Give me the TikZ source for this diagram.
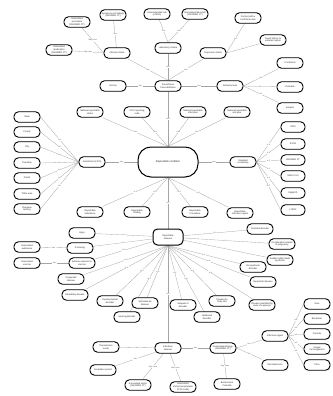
\documentclass[tikz,border=0pt]{standalone}
\usepackage{fontspec}
\setmainfont{Liberation Sans}
\usetikzlibrary{backgrounds,positioning}
\definecolor{linkgray}{RGB}{165,165,165}
\definecolor{relgray}{RGB}{95,95,95}
\definecolor{textgray}{RGB}{40,40,40}

\begin{document}
\begin{tikzpicture}[
    x=1mm,
    y=-1mm,
    concept/.style={
      draw,
      line width=0.9mm,
      rounded corners=4.5mm,
      fill=white,
      align=center,
      inner sep=1.1mm,
      minimum width=26mm,
      minimum height=10.5mm,
      text=textgray,
      font=\fontsize{6.5}{7.5}\selectfont
    },
    hub/.style={concept, line width=1mm, minimum width=60mm, minimum height=30mm,
      rounded corners=13mm, font=\fontsize{7.5}{9}\selectfont},
    link/.style={draw=linkgray, line width=0.3mm},
    rel/.style={font=\fontsize{5.5}{6.5}\selectfont, text=relgray, fill=white,
      inner sep=0.4mm}
  ]
  \useasboundingbox (0,0) rectangle (332,396);

  % surveillance case definition
  \node[concept] (apro) at (77,22) {Associated\\procedure\\(SNOMED CT)};
  \node[concept] (amed) at (59,50) {Associated\\medication\\(SNOMED CT)};
  \node[concept] (symp) at (113,15) {Symptoms \& Findings\\(SNOMED CT)};
  \node[concept] (labt) at (157,14) {Associated lab test\\(LOINC)};
  \node[concept] (labr) at (195,14) {Associated lab result\\(SNOMED CT)};
  \node[concept] (clin) at (117,53) {Clinical criteria};
  \node[concept] (labc) at (168,48) {Laboratory criteria};
  \node[concept] (expc) at (213,53) {Exposure criteria};
  \node[concept] (cont) at (248,18) {Contact with a\\confirmed case};
  \node[concept] (trav) at (273,40) {Travel history to\\endemic region};
  \node[concept] (vers) at (113,86) {Version};
  \node[concept] (surv) at (168,86) {Surveillance\\Case definition};
  \node[concept] (cert) at (230,86) {Certainty level};
  \node[concept] (conf) at (290,63) {Confirmed};
  \node[concept] (prob) at (290,87) {Probable};
  \node[concept] (susp) at (290,108) {Suspect};

  % reportable condition
  \node[concept] (nrs) at (90,112) {National reportable\\status};
  \node[concept] (cdc) at (137,112) {CDC reporting\\code};
  \node[concept] (nrsy) at (193,112) {National reportable\\start year};
  \node[concept] (nrey) at (237,112) {National reportable\\end year};
  \node[hub] (rc) at (168,162) {Reportable condition};
  \node[concept] (juri) at (92,162) {Jurisdiction (FIPS)};
  \node[concept] (stdv) at (243,162) {Standard\\vocabulary};

  \node[concept] (state) at (27,117) {State};
  \node[concept] (county) at (27,132) {County};
  \node[concept] (city) at (27,147) {City};
  \node[concept] (town) at (27,163) {Township};
  \node[concept] (parish) at (27,178) {Parish};
  \node[concept] (tribal) at (27,194) {Tribal area};
  \node[concept] (overs) at (27,209) {Overseas\\territory};

  \node[concept, minimum width=24mm] (icd9) at (293,127) {ICD9};
  \node[concept, minimum width=24mm] (icd10) at (293,144) {ICD10};
  \node[concept, minimum width=24mm] (snomed) at (293,160) {SNOMED CT};
  \node[concept, minimum width=24mm] (umls) at (293,176) {UMLS CUI};
  \node[concept, minimum width=24mm] (digid) at (293,193) {Digital ID};
  \node[concept, minimum width=24mm] (loinc) at (293,210) {LOINC};

  \node[concept] (rsub) at (90,212) {Reportable\\Substance};
  \node[concept] (rfin) at (137,212) {Reportable\\Finding};
  \node[concept] (rpro) at (195,212) {Reportable\\Procedure};
  \node[concept] (rinf) at (240,213) {Reportable\\infectious agent};

  % reportable disease
  \node[concept, minimum width=30mm, minimum height=16mm, line width=1mm] (rd)
    at (168,237) {Reportable\\Disease};
  \node[concept] (inj) at (82,233) {Injury};
  \node[concept] (pois) at (80,248) {Poisoning};
  \node[concept] (adv) at (82,263) {Adverse reaction to\\vaccine};
  \node[concept] (asub) at (27,247) {Associated\\substance};
  \node[concept] (avac) at (27,263) {Associated\\vaccine};
  \node[concept] (cong) at (71,279) {Congenital\\disease};
  \node[concept] (here) at (75,295) {Hereditary disease};
  \node[concept] (dev) at (110,301) {Developmental\\disorder};
  \node[concept] (hear) at (127,317) {Hearing disorder};
  \node[concept] (self) at (145,303) {Self-induced\\disease};
  \node[concept] (seq) at (183,305) {Sequela of\\disorder};
  \node[concept] (nut) at (207,317) {Nutritional\\disorder};
  \node[concept] (body) at (222,301) {Disease by\\body site};
  \node[concept] (route) at (262,305) {Disease classified by\\route of exposure};
  \node[concept] (peri) at (260,229) {Perinatal disorder};
  \node[concept] (preg) at (282,244) {Complication related\\to pregnancy};
  \node[concept] (sids) at (280,260) {Sudden infant death\\syndrome};
  \node[concept] (occ) at (253,267) {Occupational\\disorder};
  \node[concept] (neo) at (263,282) {Neoplastic disease};

  % infectious disease
  \node[concept] (inf) at (168,348) {Infectious\\disease};
  \node[concept] (trans) at (106,347) {Transmission\\mode};
  \node[concept] (incu) at (103,370) {Incubation period};
  \node[concept] (avec) at (138,385) {Associated vector\\(SNOMED CT)};
  \node[concept] (aimm) at (183,387) {Associated\\immunoprophylaxis\\(CVX code)};
  \node[concept] (aeti) at (223,348) {Associated etiology\\(SNOMED CT)};
  \node[concept] (bio) at (227,384) {Bioterrorism\\Potential};
  \node[concept] (iag) at (275,336) {Infectious agent};
  \node[concept] (mtox) at (275,365) {Microbial toxin};
  \node[concept] (virus) at (317,304) {Virus};
  \node[concept] (bact) at (317,319) {Bacterium};
  \node[concept] (para) at (317,334) {Parasite};
  \node[concept] (fung) at (317,349) {Fungal\\microorganism};
  \node[concept] (prion) at (317,365) {Prion};

  \begin{scope}[on background layer]
  \draw[link] (clin) -- node[rel] {Has} (symp);
  \draw[link] (clin.west) -- node[rel] {May have} (apro);
  \draw[link] (clin.west) -- node[rel] {May have} (amed);
  \draw[link] (labc.north) -- node[rel] {Has} (labt);
  \draw[link] (labc.north) -- node[rel] {Has} (labr);
  \draw[link] (expc.east) -- node[rel] {IsA} (cont);
  \draw[link] (expc.east) -- node[rel] {IsA} (trav);
  \draw[link] (surv.north) -- node[rel] {Has} (clin);
  \draw[link] (surv.north) -- node[rel] {Has} (labc);
  \draw[link] (surv.north) -- node[rel] {Has} (expc);
  \draw[link] (surv) -- node[rel] {Has} (vers);
  \draw[link] (surv) -- node[rel] {Has} (cert);
  \draw[link] (cert.east) -- node[rel] {IsA} (conf);
  \draw[link] (cert.east) -- node[rel] {IsA} (prob);
  \draw[link] (cert.east) -- node[rel] {IsA} (susp);
  \draw[link] (surv) -- node[rel] {Has} (rc);

  \draw[link] (rc.north) -- node[rel] {Has} (nrs);
  \draw[link] (rc.north) -- node[rel] {Has} (cdc);
  \draw[link] (rc.north) -- node[rel] {Has} (nrsy);
  \draw[link] (rc.north) -- node[rel] {Has} (nrey);
  \draw[link] (rc) -- node[rel] {Has} (juri);
  \draw[link] (rc) -- node[rel] {Has} (stdv);
  \foreach \place in {state,county,city,town,parish,tribal,overs}
    \draw[link] (juri.west) -- node[rel] {IsA} (\place.east);
  \foreach \code in {icd9,icd10,snomed,umls,digid,loinc}
    \draw[link] (stdv.east) -- node[rel] {Is A} (\code.west);
  \foreach \kind in {rsub,rfin,rpro,rinf}
    \draw[link] (rc.south) -- node[rel] {Is A} (\kind);
  \draw[link] (rc) -- node[rel] {Is A} (rd);

  \foreach \kind in {inj,pois,adv,peri,preg,sids}
    \draw[link] (rd) -- node[rel] {Is A} (\kind);
  \foreach \kind in {cong,here,dev,hear,self,seq,nut,body,route,occ,neo,inf}
    \draw[link] (rd.south) -- node[rel] {Is A} (\kind);
  \draw[link] (pois) -- node[rel] {Has} (asub);
  \draw[link] (adv) -- node[rel] {Has} (avac);

  \draw[link] (inf) -- node[rel] {Has} (trans);
  \draw[link] (inf) -- node[rel] {Has} (incu);
  \draw[link] (inf) -- node[rel] {May have} (avec);
  \draw[link] (inf) -- node[rel] {May have} (aimm);
  \draw[link] (inf) -- node[rel] {Has} (aeti);
  \draw[link] (aeti) -- node[rel] {May have} (bio);
  \draw[link] (aeti.east) -- node[rel] {IsA} (iag);
  \draw[link] (aeti.east) -- node[rel] {IsA} (mtox);
  \foreach \agent in {virus,bact,para,fung,prion}
    \draw[link] (iag.east) -- node[rel] {IsA} (\agent.west);
  \end{scope}
\end{tikzpicture}
\end{document}
